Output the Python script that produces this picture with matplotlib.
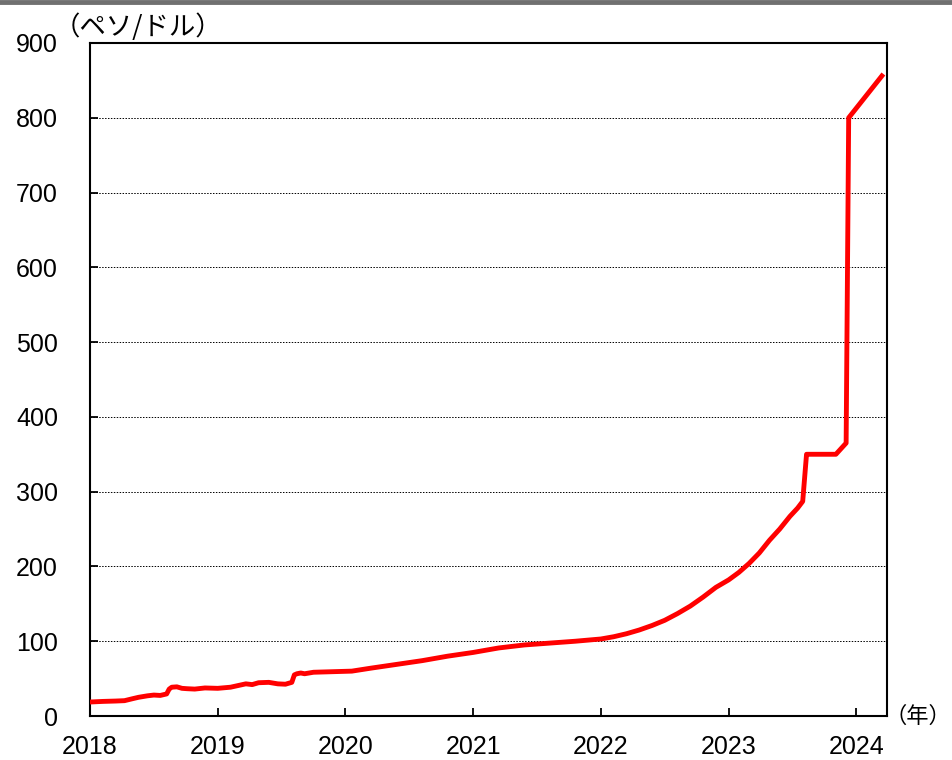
import matplotlib.pyplot as plt
import matplotlib.lines as mlines

plt.rcParams['font.family'] = ['Liberation Sans', 'Noto Sans CJK JP', 'DejaVu Sans']

# decimal year, peso per dollar
years = [2018.00, 2018.10, 2018.20, 2018.27, 2018.33, 2018.38, 2018.45, 2018.50,
         2018.55, 2018.60, 2018.62, 2018.64, 2018.68, 2018.72, 2018.76, 2018.82,
         2018.90, 2019.00, 2019.10, 2019.18, 2019.22, 2019.27, 2019.32, 2019.40,
         2019.47, 2019.53, 2019.58, 2019.60, 2019.62, 2019.65, 2019.68, 2019.75,
         2019.85, 2019.95, 2020.05, 2020.20, 2020.40, 2020.60, 2020.80, 2021.00,
         2021.20, 2021.40, 2021.60, 2021.80, 2022.00, 2022.10, 2022.20, 2022.30,
         2022.40, 2022.50, 2022.60, 2022.70, 2022.80, 2022.90, 2023.00, 2023.08,
         2023.16, 2023.24, 2023.32, 2023.40, 2023.48, 2023.54, 2023.58, 2023.61,
         2023.63, 2023.84, 2023.92, 2023.94, 2024.20]
rate = [18.7, 19.5, 20.0, 20.5, 23.0, 25.0, 27.0, 28.0,
        27.5, 29.5, 36.0, 38.5, 39.0, 37.0, 36.5, 36.0,
        37.5, 37.0, 38.5, 41.5, 43.0, 42.0, 44.5, 45.0,
        43.0, 42.5, 45.0, 55.0, 56.5, 57.5, 56.5, 58.5,
        59.0, 59.5, 60.0, 64.0, 69.0, 74.0, 80.0, 85.0,
        91.0, 95.0, 97.5, 100.0, 103.0, 106.0, 110.0, 115.0,
        121.0, 128.0, 137.0, 147.0, 159.0, 172.0, 182.0, 192.0,
        204.0, 218.0, 235.0, 250.0, 267.0, 278.0, 287.0, 350.0,
        350.0, 350.0, 365.0, 800.0, 856.0]

xticks = [2018, 2019, 2020, 2021, 2022, 2023, 2024]
yticks = [0, 100, 200, 300, 400, 500, 600, 700, 800, 900]

fig = plt.figure(figsize=(9.53, 7.6), dpi=100)
ax = fig.add_axes([90 / 953, 1 - 716 / 760, 797 / 953, 673 / 760])

ax.plot(years, rate, color='#ff0000', lw=3.5, solid_joinstyle='round', zorder=3)

ax.set_xlim(2018, 2024.24)
ax.set_ylim(0, 900)
ax.set_xticks(xticks)
ax.set_xticklabels([str(t) for t in xticks])
ax.set_yticks(yticks)
ax.yaxis.grid(True, color='black', linestyle=(0, (1.5, 1.5)), linewidth=0.7)
ax.tick_params(direction='in', length=6, width=1.3, labelsize=18, colors='black')
ax.tick_params(axis='y', pad=23)
ax.tick_params(axis='x', pad=14)
for s in ax.spines.values():
    s.set_linewidth(1.5)

fig.text(54 / 953, 1 - 27 / 760, '（ペソ/ドル）', fontsize=19, va='center', ha='left',
         family=['Noto Sans CJK JP', 'DejaVu Sans'])
fig.text(885 / 953, 1 - 716 / 760, '（年）', fontsize=16, va='center', ha='left',
         family=['Noto Sans CJK JP', 'DejaVu Sans'])

# grey rule along the top of the figure
fig.add_artist(mlines.Line2D([0, 1], [1 - 2 / 760, 1 - 2 / 760], color='#707070',
                             lw=3.5, transform=fig.transFigure))

fig.savefig('out.png', dpi=100)
